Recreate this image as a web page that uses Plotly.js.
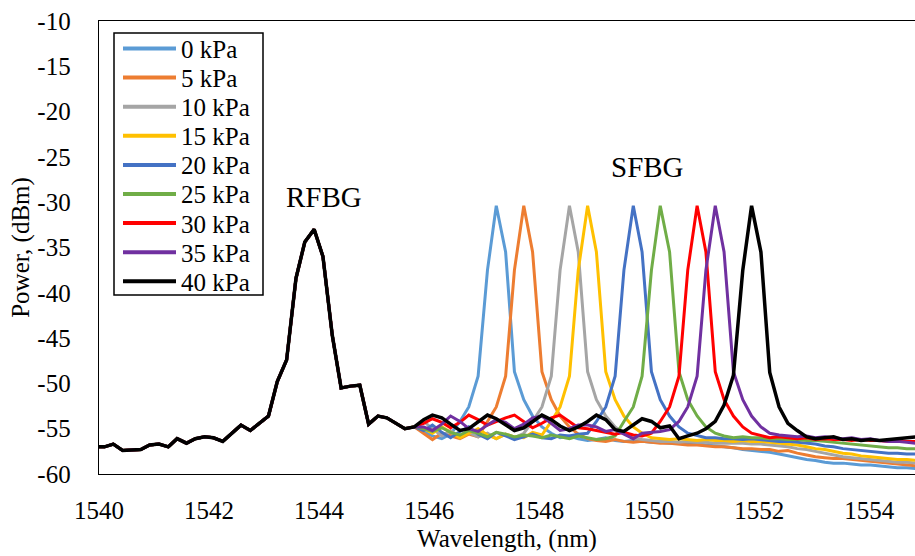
<!DOCTYPE html>
<html>
<head>
<meta charset="utf-8">
<script src="https://cdn.plot.ly/plotly-3.0.1.min.js"></script>
<style>html,body{margin:0;padding:0;background:#fff;overflow:hidden}#chart{width:915px;height:556px}</style>
</head>
<body>
<div id="chart"></div>
<script>
// ---------- data ----------
const wavelength = [
  1539.93,1540.10,1540.26,1540.43,1540.59,1540.76,1540.92,1541.09,1541.26,1541.42,
  1541.59,1541.75,1541.92,1542.08,1542.25,1542.42,1542.58,1542.75,1542.91,1543.08,
  1543.24,1543.41,1543.58,1543.74,1543.91,1544.07,1544.24,1544.40,1544.57,1544.74,
  1544.90,1545.07,1545.23,1545.40,1545.56,1545.73,1545.90,1546.06,1546.23,1546.39,
  1546.56,1546.72,1546.89,1547.06,1547.22,1547.39,1547.55,1547.72,1547.88,1548.05,
  1548.22,1548.38,1548.55,1548.71,1548.88,1549.04,1549.21,1549.38,1549.54,1549.71,
  1549.87,1550.04,1550.20,1550.37,1550.54,1550.70,1550.87,1551.03,1551.20,1551.36,
  1551.53,1551.70,1551.86,1552.03,1552.19,1552.36,1552.52,1552.69,1552.86,1553.02,
  1553.19,1553.35,1553.52,1553.68,1553.85,1554.02,1554.18,1554.35,1554.51,1554.68,
  1554.84
];

// RFBG region (common to all pressures), 1539.93 .. 1545.73 nm
const rfbgPower = [
  -57.0,-57.0,-56.7,-57.4,-57.35,-57.3,-56.8,-56.7,-57.0,-56.1,
  -56.6,-56.1,-55.9,-56.0,-56.4,-55.5,-54.6,-55.2,-54.4,-53.6,
  -49.8,-47.4,-38.4,-34.4,-33.0,-36.0,-44.7,-50.5,-50.3,-50.2,
  -54.5,-53.6,-53.8,-54.4,-55.0,-54.8
];

// SFBG region, 1545.90 .. 1554.84 nm
const sfbg0kPa = [
  -55.3,-55.8,-56.1,-55.6,-54.2,-52.6,-49.2,-37.5,-30.4,-35.5,-48.7,-51.8,-53.6,-54.8,-55.5,
  -56.0,-55.8,-56.1,-56.3,-56.2,-56.0,-56.3,-56.4,-56.3,-56.4,-56.5,-56.5,-56.6,-56.6,-56.7,-56.7,-56.8,-56.9,-57.0,-57.1,
  -57.3,-57.4,-57.5,-57.6,-57.8,-58.0,-58.2,-58.4,-58.5,-58.7,-58.8,-58.8,-58.9,-59.0,-59.0,-59.1,-59.2,-59.3,-59.3,-59.4
];
const sfbg5kPa = [
  -55.5,-56.2,-55.5,-55.8,-56.1,-55.6,-55.9,-54.2,-52.6,-49.2,-37.5,-30.4,-35.5,-48.7,-51.8,
  -53.6,-54.8,-55.6,-56.1,-56.3,-56.4,-56.2,-56.4,-56.5,-56.4,-56.5,-56.6,-56.6,-56.7,-56.8,-56.8,-56.9,-57.0,-57.0,-57.1,
  -57.2,-57.2,-57.3,-57.3,-57.5,-57.4,-57.7,-57.9,-58.1,-58.2,-58.3,-58.3,-58.4,-58.5,-58.6,-58.7,-58.8,-58.9,-59.0,-59.1
];
const sfbg10kPa = [
  -54.2,-55.0,-55.8,-55.2,-56.0,-55.4,-55.9,-55.5,-56.1,-55.6,-56.0,-55.5,-54.2,-52.6,-49.2,
  -37.5,-30.4,-35.5,-48.7,-51.8,-53.6,-54.8,-55.5,-56.0,-56.2,-56.3,-56.4,-56.4,-56.5,-56.4,-56.5,-56.5,-56.6,-56.6,-56.6,
  -56.6,-56.7,-56.7,-56.8,-56.9,-57.0,-57.2,-57.3,-57.5,-57.7,-57.9,-58.1,-58.2,-58.3,-58.4,-58.5,-58.6,-58.7,-58.7,-58.8
];
const sfbg15kPa = [
  -55.0,-55.5,-54.8,-55.4,-56.0,-55.5,-55.0,-55.7,-56.1,-55.6,-55.9,-56.0,-55.4,-55.7,-54.2,
  -52.6,-49.2,-37.5,-30.4,-35.5,-48.7,-51.8,-53.6,-54.8,-55.5,-56.0,-56.1,-56.2,-56.1,-56.2,-56.3,-56.2,-56.3,-56.3,-56.4,
  -56.3,-56.4,-56.4,-56.5,-56.6,-56.7,-56.8,-57.0,-57.2,-57.3,-57.5,-57.7,-57.8,-58.0,-58.1,-58.2,-58.3,-58.4,-58.4,-58.5
];
const sfbg20kPa = [
  -55.2,-54.6,-55.4,-56.0,-55.3,-54.8,-55.6,-56.1,-55.4,-55.8,-56.2,-55.9,-55.6,-56.0,-56.1,
  -55.7,-55.8,-55.6,-55.5,-54.2,-52.6,-49.2,-37.5,-30.4,-35.5,-48.7,-51.8,-53.6,-54.8,-55.5,-55.8,-56.0,-56.0,-56.1,-56.1,
  -56.2,-56.1,-56.2,-56.3,-56.4,-56.4,-56.5,-56.6,-56.7,-56.9,-57.0,-57.2,-57.3,-57.4,-57.5,-57.6,-57.7,-57.7,-57.8,-57.8
];
const sfbg25kPa = [
  -55.0,-55.3,-54.9,-55.4,-55.7,-55.2,-55.5,-55.9,-55.4,-55.6,-55.9,-55.7,-55.8,-56.0,-55.7,
  -55.9,-56.1,-55.8,-56.0,-56.2,-56.1,-55.8,-54.2,-52.6,-49.2,-37.5,-30.4,-35.5,-48.7,-51.8,-53.6,-54.8,-55.5,-55.8,-56.0,
  -55.9,-56.0,-56.0,-56.1,-56.1,-56.2,-56.2,-56.3,-56.3,-56.4,-56.5,-56.6,-56.7,-56.8,-56.9,-57.0,-57.1,-57.1,-57.2,-57.2
];
const sfbg30kPa = [
  -54.4,-53.9,-54.3,-54.9,-54.3,-53.5,-54.0,-54.6,-54.2,-53.8,-53.5,-54.2,-54.9,-54.4,-53.8,
  -53.5,-54.2,-54.9,-55.0,-55.2,-55.4,-55.6,-55.4,-55.7,-55.8,-55.5,-54.2,-52.6,-49.2,-37.5,-30.4,-35.5,-48.7,-51.8,-53.6,
  -54.8,-55.5,-55.8,-56.0,-55.9,-56.0,-56.1,-56.0,-56.2,-56.1,-56.2,-56.2,-56.3,-56.2,-56.3,-56.3,-56.4,-56.3,-56.4,-56.4
];
const sfbg35kPa = [
  -54.8,-55.2,-54.5,-53.6,-54.2,-55.0,-55.3,-54.6,-54.0,-54.3,-55.0,-54.5,-53.8,-53.6,-54.4,
  -55.2,-55.0,-54.6,-54.6,-54.8,-55.3,-55.1,-55.6,-56.1,-55.5,-55.4,-55.3,-55.1,-54.2,-52.6,-49.2,-37.5,-30.4,-35.5,-48.7,
  -51.8,-53.6,-54.8,-55.5,-55.7,-55.8,-55.9,-55.8,-56.0,-55.9,-56.0,-56.1,-56.0,-56.2,-56.1,-56.3,-56.4,-56.4,-56.5,-56.6
];
const sfbg40kPa = [
  -54.0,-53.5,-53.8,-54.5,-55.2,-55.0,-54.2,-53.5,-53.9,-54.6,-55.2,-54.9,-54.2,-53.5,-54.0,
  -54.7,-55.2,-54.8,-54.2,-53.5,-54.0,-55.1,-55.3,-54.6,-53.9,-54.2,-54.9,-54.7,-56.1,-55.8,-55.5,-55.0,-54.2,-52.4,-49.1,
  -37.5,-30.4,-35.5,-48.8,-52.6,-54.4,-55.2,-55.9,-56.1,-56.0,-55.9,-56.2,-56.1,-56.3,-56.2,-56.3,-56.2,-56.1,-56.0,-55.9
];

const seriesNames = ['0 kPa','5 kPa','10 kPa','15 kPa','20 kPa','25 kPa','30 kPa','35 kPa','40 kPa'];
const sfbgSeries = [sfbg0kPa,sfbg5kPa,sfbg10kPa,sfbg15kPa,sfbg20kPa,sfbg25kPa,sfbg30kPa,sfbg35kPa,sfbg40kPa];

const yTickVals = [-60,-55,-50,-45,-40,-35,-30,-25,-20,-15,-10];
const yTickText = ['-60','-55','-50','-45','-40','-35','-30','-25','-20','-15','-10'];
const xTickVals = [1540,1542,1544,1546,1548,1550,1552,1554];
const xTickText = ['1540','1542','1544','1546','1548','1550','1552','1554'];

// ---------- styling ----------
const colors = ['#5B9BD5','#ED7D31','#A5A5A5','#FFC000','#4472C4','#70AD47','#FF0000','#7030A0','#000000'];
const FONT = 'Liberation Serif, Times New Roman, serif';
const W = 915, H = 556, ML = 99, MR = 0, MT = 21, MB = 82;
const px2x = p => (p - ML) / (W - ML - MR);
const py2y = p => (H - MB - p) / (H - MT - MB);

const traces = sfbgSeries.map((s, i) => ({
  type: 'scatter', mode: 'lines', name: seriesNames[i],
  x: wavelength, y: rfbgPower.concat(s),
  line: {color: colors[i], width: i === 8 ? 3.5 : 3},
  showlegend: false, hoverinfo: 'skip'
}));

// custom legend (box, samples, labels)
const shapes = [{
  type: 'rect', xref: 'paper', yref: 'paper',
  x0: px2x(114), x1: px2x(263), y0: py2y(295), y1: py2y(33),
  line: {color: '#000', width: 1.5}, fillcolor: '#fff', layer: 'above'
}];
const annotations = [];
seriesNames.forEach((n, k) => {
  const yy = 48.5 + 29.1 * k;
  shapes.push({type: 'line', xref: 'paper', yref: 'paper',
    x0: px2x(123), x1: px2x(176), y0: py2y(yy), y1: py2y(yy),
    line: {color: colors[k], width: 4}, layer: 'above'});
  annotations.push({xref: 'paper', yref: 'paper', x: px2x(179), y: py2y(yy + 1),
    xanchor: 'left', yanchor: 'middle', text: n, showarrow: false,
    font: {family: FONT, size: 25, color: '#000'}});
});
annotations.push({x: 1544.08, y: -29.4, xref: 'x', yref: 'y', text: 'RFBG', showarrow: false,
  font: {family: FONT, size: 29, color: '#000'}});
annotations.push({x: 1549.97, y: -26.1, xref: 'x', yref: 'y', text: 'SFBG', showarrow: false,
  font: {family: FONT, size: 29, color: '#000'}});

const layout = {
  width: W, height: H,
  margin: {l: ML, r: MR, t: MT, b: MB, pad: 0},
  paper_bgcolor: '#fff', plot_bgcolor: '#fff',
  font: {family: FONT, size: 25, color: '#000'},
  showlegend: false,
  xaxis: {
    range: [1540, 1554.83], tickvals: xTickVals, ticktext: xTickText,
    showgrid: false, zeroline: false, ticks: '', showline: true, linecolor: '#000', linewidth: 1.3,
    mirror: true, ticklabelstandoff: 14,
    tickfont: {family: FONT, size: 25, color: '#000'},
    title: {text: 'Wavelength, (nm)', font: {family: FONT, size: 25, color: '#000'}, standoff: 6},
    automargin: false
  },
  yaxis: {
    range: [-60, -10], tickvals: yTickVals, ticktext: yTickText,
    showgrid: false, zeroline: false, ticks: '', showline: true, linecolor: '#000', linewidth: 1.3,
    ticklabelstandoff: 22,
    tickfont: {family: FONT, size: 25, color: '#000'},
    title: {text: 'Power, (dBm)', font: {family: FONT, size: 25, color: '#000'}, standoff: 0},
    automargin: false
  },
  shapes: shapes,
  annotations: annotations
};

Plotly.newPlot('chart', traces, layout, {displayModeBar: false, staticPlot: true});
</script>
</body>
</html>
